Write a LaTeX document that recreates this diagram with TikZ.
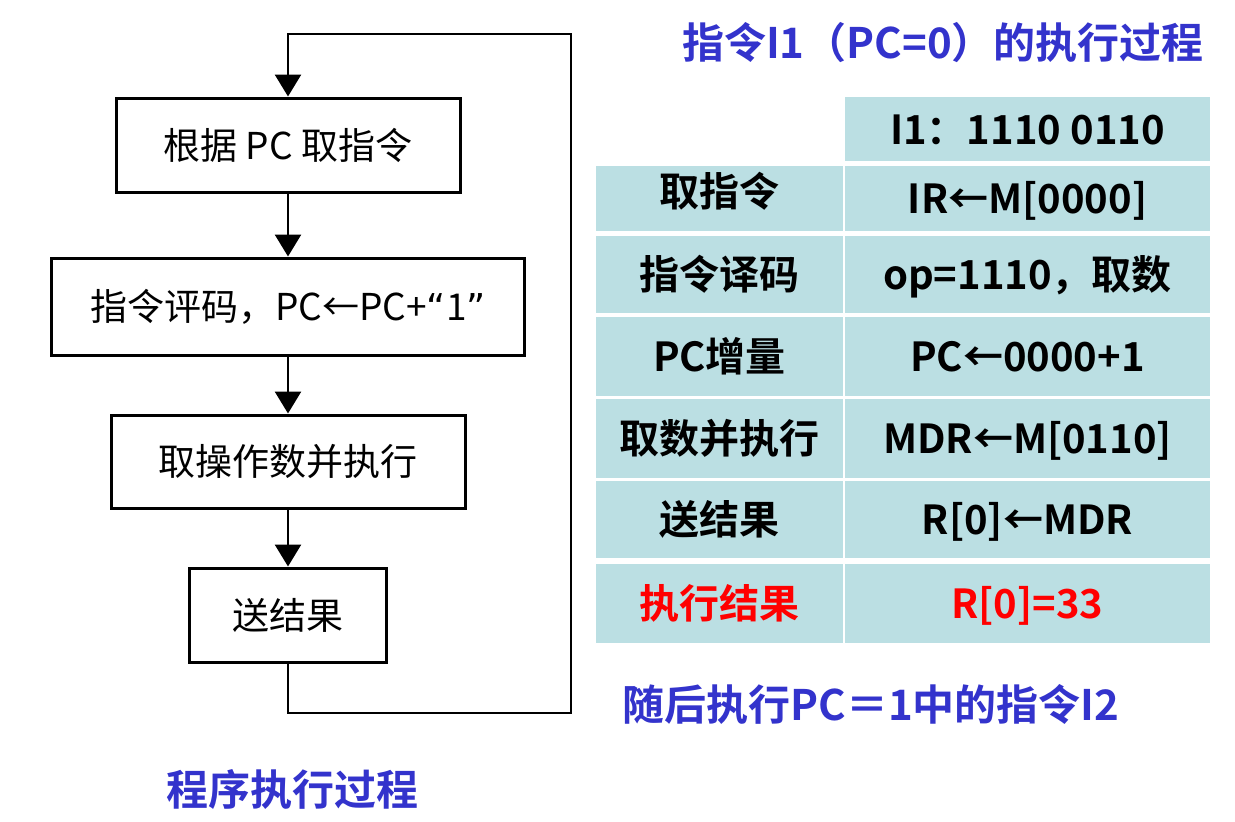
\documentclass[tikz,border=0pt]{standalone}
\usepackage{fontspec}
\newfontfamily\cjk{Noto Sans CJK SC}
\newfontfamily\cjkb{Noto Sans CJK SC Bold}
\newfontfamily\dvs{DejaVu Sans}
\usetikzlibrary{arrows.meta}
\definecolor{cellc}{RGB}{187,223,227}
\definecolor{ttlblue}{RGB}{51,51,204}
\definecolor{resred}{RGB}{255,0,0}
\tikzset{
  flowbox/.style={draw=black, line width=3pt, inner sep=0pt, fill=white,
    font=\cjk\fontsize{37}{44}\selectfont, text height=28pt, text depth=0pt},
  arr/.style={line width=2.8pt, -{Triangle[width=26pt,length=22pt]}},
  cell/.style={fill=cellc, inner sep=0pt, font=\cjkb\fontsize{40}{48}\selectfont,
    text height=30.4pt, text depth=0pt},
  ttl/.style={inner sep=0pt, text=ttlblue, font=\cjkb\fontsize{42}{50}\selectfont,
    text height=32pt, text depth=0pt}
}
\begin{document}
\begin{tikzpicture}[x=1pt, y=-1pt]
\useasboundingbox (0,0) rectangle (1235,822);
% flowchart
\node[flowbox, minimum width=344pt, minimum height=94pt] (b1) at (288,145) {根据 PC 取指令};
\node[flowbox, minimum width=473pt, minimum height=97pt] (b2) at (288,306.5) {指令评码，PC←PC+{\dvs “}1{\dvs ”}};
\node[flowbox, minimum width=354pt, minimum height=93pt] (b3) at (288,461.5) {取操作数并执行};
\node[flowbox, minimum width=197pt, minimum height=94pt] (b4) at (288,615) {送结果};
\coordinate (rb) at (571,713);
\coordinate (rt) at (571,34);
\draw[arr] (b1) -- (b2);
\draw[arr] (b2) -- (b3);
\draw[arr] (b3) -- (b4);
\draw[arr] (b4) |- (rb) -- (rt) -| (b1);
% table
\node[cell, minimum width=365pt, minimum height=64pt] (h2) at (1027.5,129) {I1：1110 0110};
\node[cell, minimum width=247pt, minimum height=65pt] (a1) at (719.5,198.5) {\raisebox{7pt}{取指令}};
\node[cell, minimum width=365pt, minimum height=65pt] (b1r) at (1027.5,198.5) {IR←M[0000]};
\node[cell, minimum width=247pt, minimum height=77pt] (a2) at (719.5,274.5) {指令译码};
\node[cell, minimum width=365pt, minimum height=77pt] (b2r) at (1027.5,274.5) {op=1110，取数};
\node[cell, minimum width=247pt, minimum height=79pt] (a3) at (719.5,356.5) {PC增量};
\node[cell, minimum width=365pt, minimum height=79pt] (b3r) at (1027.5,356.5) {PC←0000+1};
\node[cell, minimum width=247pt, minimum height=79pt] (a4) at (719.5,438.5) {取数并执行};
\node[cell, minimum width=365pt, minimum height=79pt] (b4r) at (1027.5,438.5) {MDR←M[0110]};
\node[cell, minimum width=247pt, minimum height=77pt] (a5) at (719.5,519.5) {送结果};
\node[cell, minimum width=365pt, minimum height=77pt] (b5r) at (1027.5,519.5) {R[0]←MDR};
\node[cell, minimum width=247pt, minimum height=79pt, text=resred] (a6) at (719.5,603.5) {执行结果};
\node[cell, minimum width=365pt, minimum height=79pt, text=resred] (b6r) at (1027.5,603.5) {R[0]=33};
% titles
\node[ttl] (t1) at (943,42) {指令I1（PC=0）的执行过程};
\node[ttl] (t2) at (871,704) {随后执行PC＝1中的指令I2};
\node[ttl] (t3) at (292,789) {程序执行过程};
\end{tikzpicture}
\end{document}
